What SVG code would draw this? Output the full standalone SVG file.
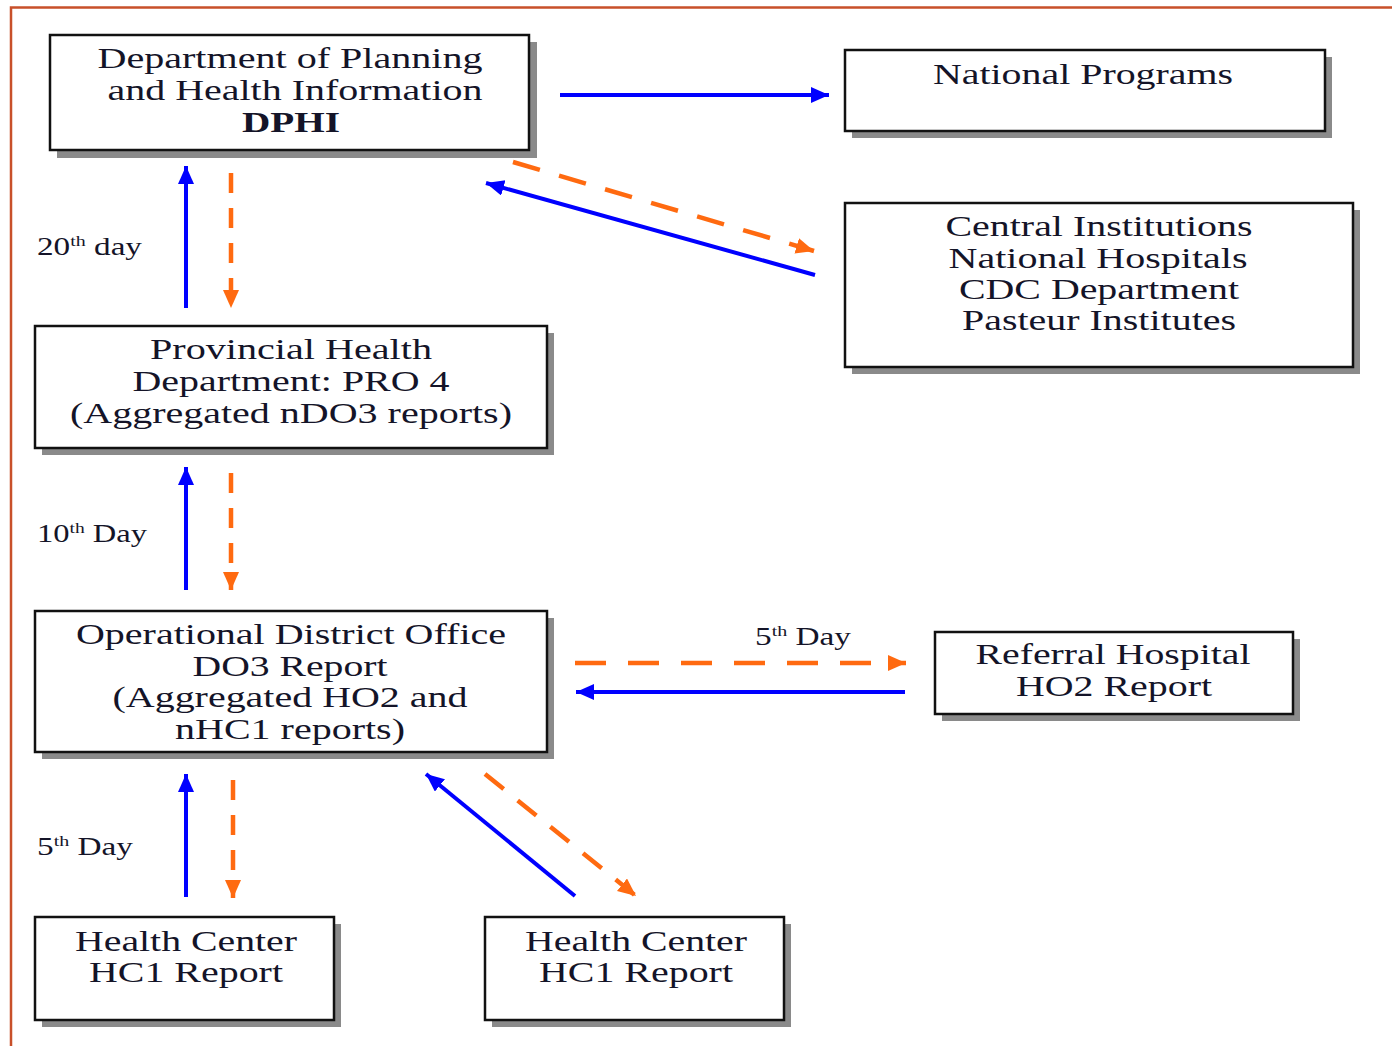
<svg xmlns="http://www.w3.org/2000/svg" width="1392" height="1046" viewBox="0 0 1392 1046">
<style>
.box{fill:#fff;stroke:#111;stroke-width:2.5}
.sh{fill:#8a8a8a}
.t{font-family:"Liberation Serif","Times New Roman",serif;font-size:30px;fill:#141428;text-anchor:middle}
.b{font-weight:bold}
.lb{font-family:"Liberation Serif","Times New Roman",serif;font-size:25px;fill:#141428}
.sup{font-size:15px}
.blue{stroke:#0000ff;stroke-width:4;fill:none}
.or{stroke:#ff6a10;stroke-width:4.5;fill:none}
</style>
<defs>
<marker id="ab" markerUnits="userSpaceOnUse" markerWidth="20" markerHeight="18" refX="18" refY="8" orient="auto"><path d="M0,0 L18,8 L0,16 Z" fill="#0000ff"/></marker>
<marker id="ao" markerUnits="userSpaceOnUse" markerWidth="20" markerHeight="18" refX="18" refY="8" orient="auto"><path d="M0,0 L18,8 L0,16 Z" fill="#ff6a10"/></marker>
</defs>
<rect width="1392" height="1046" fill="#fff"/>
<path d="M11,1046 V7.5 H1392" fill="none" stroke="#c8502a" stroke-width="2.5"/>

<g id="dphi">
<rect class="sh" x="57" y="42" width="480" height="116"/>
<rect class="box" x="50" y="35" width="479" height="115"/>
<text class="t" x="290" y="68" textLength="385" lengthAdjust="spacingAndGlyphs">Department of Planning</text>
<text class="t" x="295" y="100" textLength="375" lengthAdjust="spacingAndGlyphs">and Health Information</text>
<text class="t b" x="291" y="132" textLength="98" lengthAdjust="spacingAndGlyphs">DPHI</text>
</g>

<g id="national">
<rect class="sh" x="852" y="57" width="480" height="81"/>
<rect class="box" x="845" y="50" width="480" height="81"/>
<text class="t" x="1083" y="84" textLength="300" lengthAdjust="spacingAndGlyphs">National Programs</text>
</g>

<g id="central">
<rect class="sh" x="852" y="210" width="508" height="164"/>
<rect class="box" x="845" y="203" width="508" height="164"/>
<text class="t" x="1099" y="236" textLength="307" lengthAdjust="spacingAndGlyphs">Central Institutions</text>
<text class="t" x="1098" y="268" textLength="299" lengthAdjust="spacingAndGlyphs">National Hospitals</text>
<text class="t" x="1099" y="299" textLength="280" lengthAdjust="spacingAndGlyphs">CDC Department</text>
<text class="t" x="1099" y="330" textLength="274" lengthAdjust="spacingAndGlyphs">Pasteur Institutes</text>
</g>

<g id="provincial">
<rect class="sh" x="42" y="333" width="512" height="122"/>
<rect class="box" x="35" y="326" width="512" height="122"/>
<text class="t" x="291" y="359" textLength="282" lengthAdjust="spacingAndGlyphs">Provincial Health</text>
<text class="t" x="291" y="391" textLength="317" lengthAdjust="spacingAndGlyphs">Department: PRO 4</text>
<text class="t" x="291" y="423" textLength="442" lengthAdjust="spacingAndGlyphs">(Aggregated nDO3 reports)</text>
</g>

<g id="odo">
<rect class="sh" x="42" y="618" width="512" height="141"/>
<rect class="box" x="35" y="611" width="512" height="141"/>
<text class="t" x="291" y="644" textLength="430" lengthAdjust="spacingAndGlyphs">Operational District Office</text>
<text class="t" x="290" y="676" textLength="195" lengthAdjust="spacingAndGlyphs">DO3 Report</text>
<text class="t" x="290" y="707" textLength="355" lengthAdjust="spacingAndGlyphs">(Aggregated HO2 and</text>
<text class="t" x="290" y="739" textLength="230" lengthAdjust="spacingAndGlyphs">nHC1 reports)</text>
</g>

<g id="referral">
<rect class="sh" x="942" y="639" width="358" height="82"/>
<rect class="box" x="935" y="632" width="358" height="82"/>
<text class="t" x="1113" y="664" textLength="275" lengthAdjust="spacingAndGlyphs">Referral Hospital</text>
<text class="t" x="1114" y="696" textLength="196" lengthAdjust="spacingAndGlyphs">HO2 Report</text>
</g>

<g id="hc1-left">
<rect class="sh" x="42" y="924" width="299" height="103"/>
<rect class="box" x="35" y="917" width="299" height="103"/>
<text class="t" x="186" y="951" textLength="222" lengthAdjust="spacingAndGlyphs">Health Center</text>
<text class="t" x="186" y="982" textLength="194" lengthAdjust="spacingAndGlyphs">HC1 Report</text>
</g>

<g id="hc1-right">
<rect class="sh" x="492" y="924" width="299" height="103"/>
<rect class="box" x="485" y="917" width="299" height="103"/>
<text class="t" x="636" y="951" textLength="222" lengthAdjust="spacingAndGlyphs">Health Center</text>
<text class="t" x="636" y="982" textLength="194" lengthAdjust="spacingAndGlyphs">HC1 Report</text>
</g>

<g id="connectors">
<line class="blue" x1="560" y1="95" x2="829" y2="95" marker-end="url(#ab)"/>
<line class="or" x1="513" y1="162" x2="814" y2="251" stroke-dasharray="28 20" marker-end="url(#ao)"/>
<line class="blue" x1="815" y1="275" x2="486" y2="183" marker-end="url(#ab)"/>
<line class="blue" x1="186" y1="308" x2="186" y2="166" marker-end="url(#ab)"/>
<line class="or" x1="231" y1="173" x2="231" y2="308" stroke-dasharray="20 15" marker-end="url(#ao)"/>
<line class="blue" x1="186" y1="590" x2="186" y2="467" marker-end="url(#ab)"/>
<line class="or" x1="231" y1="473" x2="231" y2="590" stroke-dasharray="20 15" marker-end="url(#ao)"/>
<line class="or" x1="575" y1="663" x2="906" y2="663" stroke-dasharray="31 22" marker-end="url(#ao)"/>
<line class="blue" x1="905" y1="692" x2="576" y2="692" marker-end="url(#ab)"/>
<line class="blue" x1="186" y1="897" x2="186" y2="774" marker-end="url(#ab)"/>
<line class="or" x1="233" y1="780" x2="233" y2="898" stroke-dasharray="20 15" marker-end="url(#ao)"/>
<line class="blue" x1="575" y1="896" x2="426" y2="774" marker-end="url(#ab)"/>
<line class="or" x1="485" y1="774" x2="636" y2="896" stroke-dasharray="24 18" marker-end="url(#ao)"/>
</g>

<g id="labels">
<text class="lb" x="37" y="255" textLength="105" lengthAdjust="spacingAndGlyphs">20<tspan class="sup" dy="-9">th</tspan><tspan dy="9"> day</tspan></text>
<text class="lb" x="37" y="542" textLength="110" lengthAdjust="spacingAndGlyphs">10<tspan class="sup" dy="-9">th</tspan><tspan dy="9"> Day</tspan></text>
<text class="lb" x="755" y="645" textLength="96" lengthAdjust="spacingAndGlyphs">5<tspan class="sup" dy="-9">th</tspan><tspan dy="9"> Day</tspan></text>
<text class="lb" x="37" y="855" textLength="96" lengthAdjust="spacingAndGlyphs">5<tspan class="sup" dy="-9">th</tspan><tspan dy="9"> Day</tspan></text>
</g>
</svg>
